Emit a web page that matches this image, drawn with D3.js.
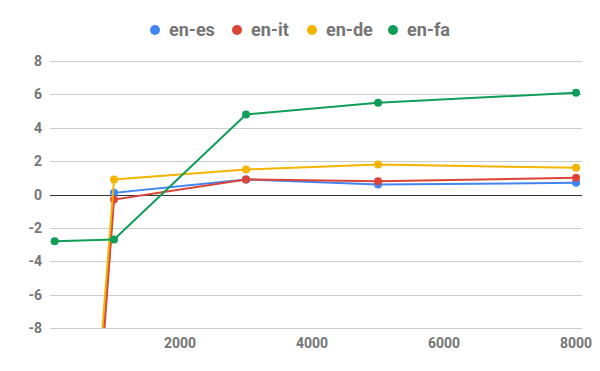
<!DOCTYPE html>
<html>
<head>
<meta charset="utf-8">
<script src="https://cdn.jsdelivr.net/npm/d3@7"></script>
<style>
  body { margin: 0; background: #fff; }
  text { font-family: Roboto, "Noto Sans", sans-serif; }
</style>
</head>
<body>
<svg id="chart" width="600" height="371"></svg>
<script>
// data
var steps = [100, 1000, 3000, 5000, 8000];
var seriesNames = ["en-es", "en-it", "en-de", "en-fa"];
var colors = ["#4285f4", "#db4437", "#f4b400", "#0f9d58"];
var enEs = [-47, 0.1, 0.9, 0.6, 0.7];
var enIt = [-48, -0.3, 0.9, 0.8, 1.0];
var enDe = [-45, 0.9, 1.5, 1.8, 1.6];
var enFa = [-2.8, -2.7, 4.8, 5.5, 6.1];
var yTicks = [-8, -6, -4, -2, 0, 2, 4, 6, 8];
var xTicks = [2000, 4000, 6000, 8000];

var allSeries = [enEs, enIt, enDe, enFa];

var svg = d3.select("#chart");

var plotLeft = 50, plotRight = 582, plotTop = 61, plotBottom = 328;

var x = d3.scaleLinear().domain([30, 8090]).range([plotLeft, plotRight]);
var y = d3.scaleLinear().domain([-8, 8]).range([plotBottom, plotTop]);

// gridlines
svg.append("g").selectAll("line")
  .data(yTicks)
  .join("line")
  .attr("x1", plotLeft).attr("x2", plotRight)
  .attr("y1", d => Math.round(y(d)) + 0.5).attr("y2", d => Math.round(y(d)) + 0.5)
  .attr("stroke", d => d == 0 ? "#333" : "#cccccc")
  .attr("stroke-width", 1);

// y labels
svg.append("g").selectAll("text")
  .data(yTicks)
  .join("text")
  .attr("x", 42)
  .attr("y", d => y(d))
  .attr("dy", "0.36em")
  .attr("text-anchor", "end")
  .attr("fill", "#757575")
  .style("font-size", "14px")
  .style("font-weight", "bold")
  .text(d => d);

// x labels
svg.append("g").selectAll("text")
  .data(xTicks)
  .join("text")
  .attr("x", d => x(d))
  .attr("y", 348)
  .attr("text-anchor", "middle")
  .attr("fill", "#757575")
  .style("font-size", "14px")
  .style("font-weight", "bold")
  .text(d => d);

svg.append("clipPath").attr("id", "plotclip")
  .append("rect")
  .attr("x", plotLeft).attr("y", plotTop - 6)
  .attr("width", plotRight - plotLeft + 6).attr("height", plotBottom - plotTop + 6);

var line = d3.line()
  .x(d => x(d[0]))
  .y(d => y(d[1]));

var plot = svg.append("g").attr("clip-path", "url(#plotclip)");

allSeries.forEach(function(vals, i) {
  var pts = steps.map((s, j) => [s, vals[j]]);
  var g = plot.append("g");
  g.append("path")
    .attr("d", line(pts))
    .attr("fill", "none")
    .attr("stroke", colors[i])
    .attr("stroke-width", 2);
  g.selectAll("circle")
    .data(pts.filter(p => p[1] >= -8))
    .join("circle")
    .attr("cx", d => x(d[0]))
    .attr("cy", d => y(d[1]))
    .attr("r", 4)
    .attr("fill", colors[i]);
});

// legend
var legendX = [155, 237, 312, 393];
var legend = svg.append("g");
seriesNames.forEach(function(name, i) {
  legend.append("circle")
    .attr("cx", legendX[i]).attr("cy", 30).attr("r", 5)
    .attr("fill", colors[i]);
  legend.append("text")
    .attr("x", legendX[i] + 14).attr("y", 30)
    .attr("dy", "0.36em")
    .attr("fill", "#757575")
    .style("font-size", "18px")
    .style("font-weight", "bold")
    .text(name);
});
</script>
</body>
</html>
